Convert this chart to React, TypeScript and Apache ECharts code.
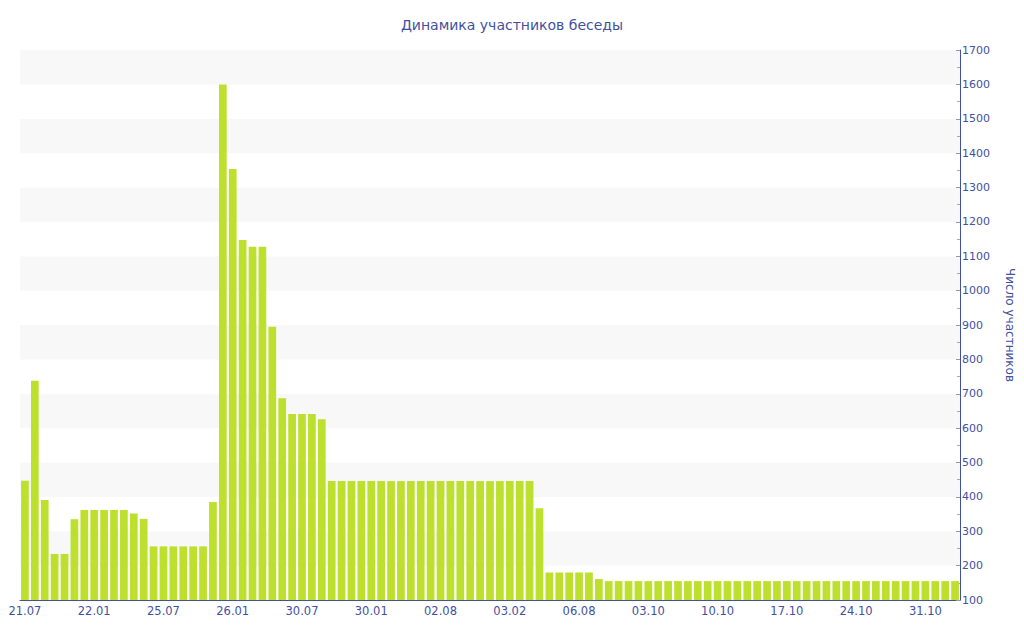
import React, { useEffect, useRef } from "react";
import * as echarts from "echarts";

const tickLabels = [
  "21.07", "22.01", "25.07", "26.01", "30.07", "30.01", "02.08",
  "03.02", "06.08", "03.10", "10.10", "17.10", "24.10", "31.10",
];

const values = [
  447, 738, 391, 234, 234, 335, 362, 362, 362, 362, 362, 352, 336,
  256, 256, 256, 256, 256, 256, 385,
  1600, 1354, 1147, 1128, 1128, 895, 687, 641, 641, 641, 626,
  446, 446, 446, 446, 446, 446, 446, 446, 446, 446, 446, 446, 446, 446, 446, 446, 446, 446, 446, 446, 446,
  367,
  180, 180, 180, 180, 180,
  161,
  155, 155, 155, 155, 155, 155, 155, 155, 155, 155, 155, 155, 155, 155, 155, 155, 155, 155,
  155, 155, 155, 155, 155, 155, 155, 155, 155, 155, 155, 155, 155, 155, 155, 155, 155, 155,
];

const categories = values.map((_, i) =>
  i % 7 === 0 && tickLabels[i / 7] ? tickLabels[i / 7] : "d" + i
);

const TITLE = "Динамика участников беседы";
const Y_NAME = "Число участников";
const Y_MIN = 100;
const Y_MAX = 1700;
const Y_STEP = 100;

const BLUE = "#3f51a0";
const BAR = "#bde02f";
const FONT = "DejaVu Sans";

export default function App() {
  const ref = useRef<HTMLDivElement>(null);
  useEffect(() => {
    if (!ref.current) return;
    const chart = echarts.init(ref.current, undefined, { renderer: "svg" });
    chart.setOption({
      animation: false,
      backgroundColor: "#ffffff",
      title: {
        text: TITLE,
        left: "center",
        top: 13,
        textStyle: {
          color: BLUE,
          fontSize: 14,
          fontWeight: "normal",
          fontFamily: FONT,
        },
      },
      grid: { left: 20, right: 60, top: 50, bottom: 40 },
      xAxis: {
        type: "category",
        data: categories,
        boundaryGap: true,
        axisLine: { lineStyle: { color: BLUE, width: 1 } },
        axisTick: {
          alignWithLabel: true,
          interval: 6,
          length: 3,
          lineStyle: { color: BLUE },
        },
        axisLabel: {
          interval: 6,
          color: BLUE,
          fontSize: 11.5,
          fontFamily: FONT,
          margin: 5,
        },
        splitLine: { show: false },
      },
      yAxis: {
        type: "value",
        position: "right",
        min: Y_MIN,
        max: Y_MAX,
        interval: Y_STEP,
        name: Y_NAME,
        nameLocation: "middle",
        nameRotate: -90,
        nameGap: 44,
        nameTextStyle: { color: BLUE, fontSize: 12, fontFamily: FONT },
        axisLine: { show: true, lineStyle: { color: BLUE, width: 1 } },
        axisTick: { show: true, inside: true, length: 4, lineStyle: { color: "#999" } },
        minorTick: { show: true, splitNumber: 2, length: 3, lineStyle: { color: "#aaa" } },
        axisLabel: {
          color: BLUE,
          fontSize: 11,
          fontFamily: FONT,
          margin: 2,
          formatter: (v: number) => String(v),
        },
        splitLine: { show: false },
        splitArea: {
          show: true,
          areaStyle: { color: ["#ffffff", "#f8f8f8"] },
        },
      },
      series: [
        {
          type: "bar",
          data: values,
          barCategoryGap: "22%",
          itemStyle: { color: BAR },
        },
      ],
    });
    return () => chart.dispose();
  }, []);
  return (
    <div
      ref={ref}
      style={{ position: "fixed", left: 0, top: 0, width: 1024, height: 640 }}
    />
  );
}
